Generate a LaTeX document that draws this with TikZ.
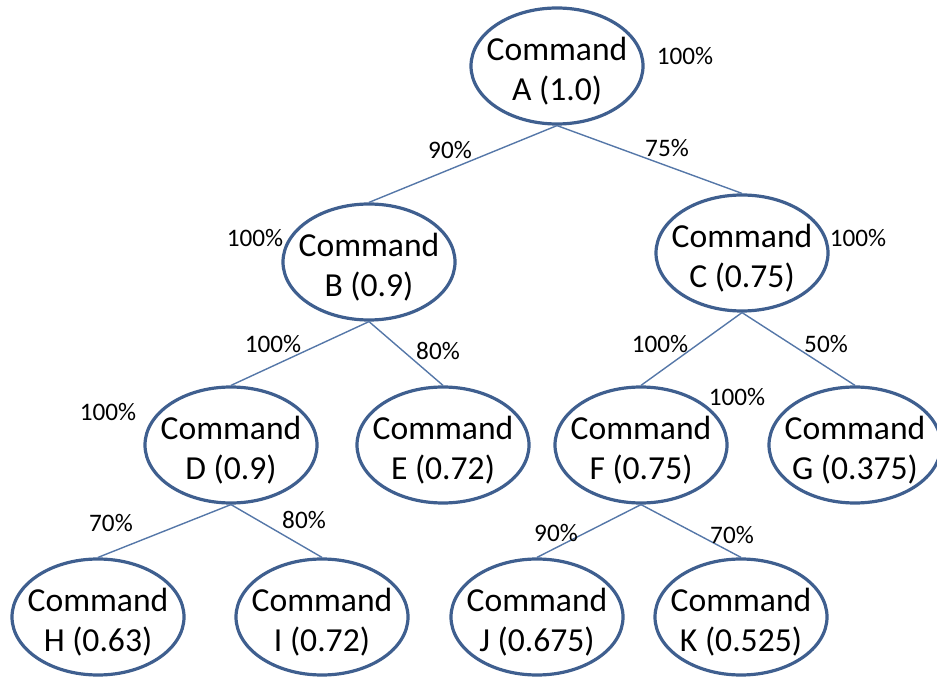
\documentclass[tikz,border=0pt]{standalone}
\usepackage{fontspec}
\setmainfont{Carlito}
\usepackage{tikz}
\usetikzlibrary{shapes.geometric}

\definecolor{cmdline}{HTML}{3F5F8F}
\definecolor{edgeline}{HTML}{5577A8}

% two-line ellipse text, first line raised a bit
\newcommand{\cmdtext}[1]{\rule{0pt}{17pt}Command\\#1}

\tikzset{
  cmd/.style={ellipse, draw=cmdline, line width=1.6pt, minimum width=86pt, minimum height=58pt,
    inner xsep=-6pt, inner ysep=0pt, align=center, font=\fontsize{16.8}{20}\selectfont},
  prob/.style={inner sep=0pt, font=\fontsize{12.6}{14}\selectfont},
  link/.style={draw=edgeline, line width=0.7pt}
}

\begin{document}
\begin{tikzpicture}[x=0.5pt,y=-0.5pt]
      \useasboundingbox (0,0) rectangle (937,678);
      % command nodes
      \node [cmd] (A) at (557,66) {\cmdtext{A (1.0)}};
      \node [cmd] (B) at (369,262) {\cmdtext{B (0.9)}};
      \node [cmd] (C) at (742,253) {\cmdtext{C (0.75)}};
      \node [cmd] (D) at (231,445) {\cmdtext{D (0.9)}};
      \node [cmd] (E) at (443,445) {\cmdtext{E (0.72)}};
      \node [cmd] (F) at (641,445) {\cmdtext{F (0.75)}};
      \node [cmd] (G) at (855,445) {\cmdtext{G (0.375)}};
      \node [cmd] (H) at (98,617) {\cmdtext{H (0.63)}};
      \node [cmd] (I) at (322,617) {\cmdtext{I (0.72)}};
      \node [cmd] (J) at (537,617) {\cmdtext{J (0.675)}};
      \node [cmd] (K) at (741,617) {\cmdtext{K (0.525)}};
      % links
      \draw [link] (A.south) -- (B.north);
      \draw [link] (A.south) -- (C.north);
      \draw [link] (B.south) -- (D.north);
      \draw [link] (B.south) -- (E.north);
      \draw [link] (C.south) -- (F.north);
      \draw [link] (C.south) -- (G.north);
      \draw [link] (D.south) -- (H.north);
      \draw [link] (D.south) -- (I.north);
      \draw [link] (F.south) -- (J.north);
      \draw [link] (F.south) -- (K.north);
      % percentages
      \node [prob] (pA) at (685,56) {100\%};
      \node [prob] (pAB) at (450,150) {90\%};
      \node [prob] (pAC) at (667,148) {75\%};
      \node [prob] (pB) at (255,238) {100\%};
      \node [prob] (pC) at (858,238) {100\%};
      \node [prob] (pBD) at (273,344) {100\%};
      \node [prob] (pBE) at (438,351) {80\%};
      \node [prob] (pCF) at (660,344) {100\%};
      \node [prob] (pCG) at (826,344) {50\%};
      \node [prob] (pD) at (108,412) {100\%};
      \node [prob] (pF) at (737,397) {100\%};
      \node [prob] (pDH) at (111,523) {70\%};
      \node [prob] (pDI) at (304,520) {80\%};
      \node [prob] (pFJ) at (556,533) {90\%};
      \node [prob] (pFK) at (732,535) {70\%};
    \end{tikzpicture}
\end{document}
